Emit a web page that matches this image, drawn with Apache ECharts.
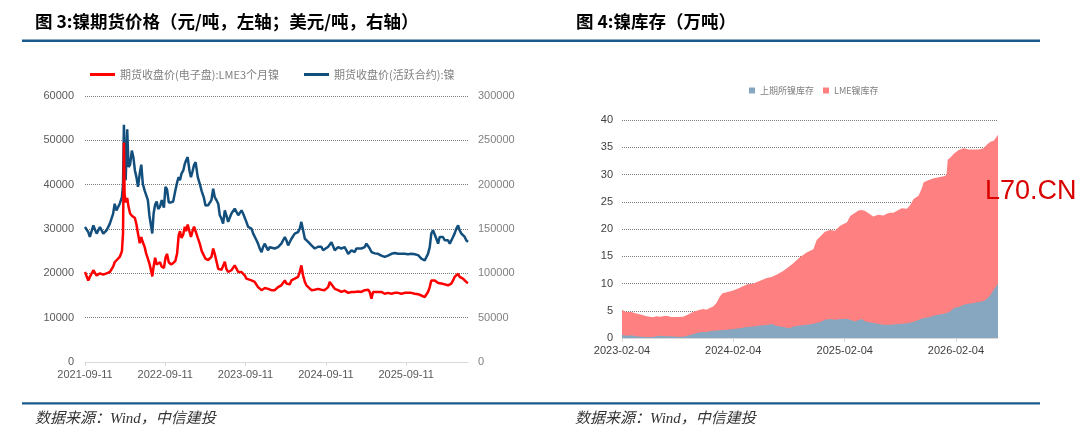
<!DOCTYPE html>
<html><head><meta charset="utf-8">
<script src="https://cdn.jsdelivr.net/npm/echarts@6/dist/echarts.min.js"></script>
<style>html,body{margin:0;padding:0;background:#fff}#c{width:1080px;height:443px}</style>
</head><body><div id="c"></div><script>
// ---------- Figure 3: nickel futures prices ----------
const priceDates = ['2021-09-11','2021-09-26','2021-10-03','2021-10-19','2021-11-03','2021-11-18','2021-12-03','2021-12-18','2022-01-02','2022-01-17','2022-01-24','2022-02-01','2022-02-16','2022-02-26','2022-03-03','2022-03-07','2022-03-10','2022-03-15','2022-03-22','2022-03-28','2022-04-04','2022-04-12','2022-04-19','2022-04-26','2022-05-03','2022-05-10','2022-05-18','2022-05-25','2022-06-01','2022-06-09','2022-06-16','2022-06-24','2022-07-01','2022-07-09','2022-07-14','2022-07-20','2022-07-27','2022-08-03','2022-08-10','2022-08-18','2022-08-26','2022-09-05','2022-09-12','2022-09-19','2022-09-27','2022-10-07','2022-10-17','2022-10-27','2022-11-04','2022-11-11','2022-11-17','2022-11-24','2022-12-02','2022-12-09','2022-12-15','2022-12-22','2022-12-30','2023-01-06','2023-01-13','2023-01-20','2023-01-27','2023-02-06','2023-02-15','2023-02-24','2023-03-06','2023-03-13','2023-03-25','2023-04-09','2023-04-17','2023-04-24','2023-05-02','2023-05-10','2023-05-17','2023-05-25','2023-06-01','2023-06-09','2023-06-16','2023-06-24','2023-07-09','2023-07-24','2023-08-09','2023-08-24','2023-08-31','2023-09-08','2023-09-15','2023-09-23','2023-10-08','2023-10-16','2023-10-23','2023-10-31','2023-11-07','2023-11-15','2023-11-23','2023-11-30','2023-12-08','2023-12-15','2023-12-23','2023-12-30','2024-01-07','2024-01-22','2024-01-30','2024-02-06','2024-02-21','2024-03-08','2024-03-15','2024-03-23','2024-03-30','2024-04-07','2024-04-22','2024-04-30','2024-05-07','2024-05-15','2024-05-22','2024-05-30','2024-06-07','2024-06-14','2024-06-22','2024-07-07','2024-07-22','2024-08-06','2024-08-21','2024-08-29','2024-09-05','2024-09-21','2024-09-28','2024-10-06','2024-10-21','2024-11-05','2024-11-20','2024-12-05','2024-12-13','2024-12-21','2025-01-05','2025-01-12','2025-01-20','2025-01-27','2025-02-04','2025-02-19','2025-02-27','2025-03-06','2025-03-14','2025-03-22','2025-03-29','2025-04-06','2025-04-13','2025-04-21','2025-05-06','2025-05-21','2025-06-05','2025-06-13','2025-06-20','2025-07-06','2025-07-21','2025-08-05','2025-08-20','2025-09-04','2025-09-19','2025-10-04','2025-10-20','2025-11-04','2025-11-19','2025-11-26','2025-12-04','2025-12-12','2025-12-19','2025-12-27','2026-01-03','2026-01-11','2026-01-19','2026-01-26','2026-02-03','2026-02-10','2026-02-18','2026-02-25','2026-03-05','2026-03-13','2026-03-20','2026-03-28','2026-04-04','2026-04-12','2026-04-19','2026-04-27','2026-05-05','2026-05-12','2026-05-20','2026-05-27','2026-06-04','2026-06-11','2026-06-19'];
// LME 3-month nickel (left axis)
const lmeNickel = [20300,18400,19200,20700,19500,20000,19700,20000,20300,21500,22500,22800,23700,25000,29000,49500,38000,36000,37000,35000,33500,33000,33000,32500,31000,29000,26800,28200,27000,26000,24500,23300,22200,20500,19300,21500,23500,22000,21800,22500,21500,21200,23500,24400,22500,22000,22300,22800,24500,28500,29500,28000,28800,30500,29500,31000,29500,28200,29500,30500,29500,28000,26700,25000,24000,23300,23000,23700,25600,24400,24400,21000,20700,20800,21000,22600,21000,20300,20700,21800,20300,20300,20300,19500,18800,18600,18400,18200,18050,17700,16900,16500,16200,16500,16700,16600,16500,16400,16200,16200,16500,16900,17300,18400,17700,17300,17500,18400,18800,18600,19200,20300,21800,19500,18050,17300,16900,16200,16300,16500,16300,16200,16200,16900,18050,17700,16500,16200,15800,16100,15800,15600,15800,16200,15800,16000,15900,15800,16000,16200,16550,16300,15800,14300,15800,15900,15800,15800,15400,15300,15600,15400,15600,15600,15400,15600,15600,15600,15400,15300,15000,14900,14650,14800,15800,16900,18400,18500,18400,18050,17800,18050,17700,17600,17500,17400,17300,17300,17700,18400,19200,19500,19900,19200,19200,18800,19000,18050,17800];
// SHFE most-active nickel (right axis)
const shfeNickel = [152300,146500,141000,154000,144800,152300,144800,148500,156000,167300,178500,171000,178500,186000,200000,267500,235000,205000,262500,220000,222500,238500,231000,216000,208500,197500,212500,222500,201000,193500,195000,182500,165000,163500,145000,167500,177500,181000,172500,175000,182500,174000,197500,195000,180000,180000,181000,193500,202500,208500,205000,212500,216000,223500,227500,231000,216000,208500,215000,222000,225500,208500,201000,192500,185000,176500,176800,182500,195500,186000,182500,178500,165500,161500,156000,171000,165500,158000,167500,173000,165500,171000,167500,165500,158000,152300,150500,144800,143000,137300,133500,127800,124000,129700,133500,129500,126000,129500,128000,128000,128000,129500,133500,141000,137300,131500,135000,139000,144800,143000,146500,150500,158000,148500,139000,137300,135500,131500,128000,130000,130000,126000,124000,130000,131500,135000,126000,129500,128000,129500,126000,122000,126000,128000,124000,128000,126000,128000,126000,129500,133500,131500,128000,124000,122000,122500,122000,120000,118500,116500,120000,122000,123000,122000,122000,122000,121500,122000,121500,120500,116500,118500,114500,114000,122000,129500,144800,148500,146500,139000,133500,141000,139000,141000,137300,135500,137300,133500,135500,141000,144800,150500,154000,148500,144800,143000,141000,137300,135500];
const priceTickLabels = ['2021-09-11','2022-09-11','2023-09-11','2024-09-11','2025-09-11'];
const priceNames = ['期货收盘价(电子盘):LME3个月镍','期货收盘价(活跃合约):镍'];

// ---------- Figure 4: nickel inventories (10k t) ----------
const stockDates = ['2023-02-04','2023-02-18','2023-03-07','2023-03-23','2023-04-09','2023-04-25','2023-05-17','2023-05-28','2023-06-08','2023-06-30','2023-07-16','2023-08-02','2023-08-24','2023-09-09','2023-09-25','2023-10-12','2023-10-28','2023-11-08','2023-11-19','2023-11-30','2023-12-11','2023-12-22','2023-12-31','2024-01-13','2024-02-04','2024-02-26','2024-03-19','2024-04-10','2024-05-02','2024-05-24','2024-06-09','2024-06-25','2024-07-17','2024-08-08','2024-08-19','2024-09-10','2024-10-02','2024-10-24','2024-10-29','2024-11-04','2024-11-15','2024-12-01','2024-12-18','2025-01-03','2025-01-20','2025-01-31','2025-02-11','2025-02-22','2025-03-10','2025-03-21','2025-04-01','2025-04-12','2025-04-23','2025-05-09','2025-05-25','2025-06-11','2025-06-22','2025-07-03','2025-07-14','2025-07-27','2025-08-10','2025-08-27','2025-09-07','2025-09-18','2025-10-04','2025-10-15','2025-10-21','2025-11-07','2025-11-23','2025-12-10','2025-12-26','2026-01-04','2026-01-08','2026-01-17','2026-01-28','2026-02-13','2026-03-02','2026-03-18','2026-04-04','2026-04-19','2026-05-06','2026-05-17','2026-05-28','2026-06-08','2026-06-22'];
const shfeStock = [0.6,0.4,0.5,0.3,0.25,0.2,0.2,0.3,0.4,0.3,0.3,0.25,0.25,0.45,0.7,1.0,1.1,1.1,1.25,1.35,1.38,1.4,1.45,1.5,1.65,1.8,2.0,2.1,2.3,2.4,2.55,2.25,2.0,1.8,2.1,2.3,2.45,2.6,2.7,2.8,2.9,3.35,3.5,3.35,3.5,3.5,3.55,3.35,3.05,3.3,3.5,3.05,2.95,2.75,2.6,2.45,2.45,2.45,2.5,2.55,2.6,2.7,2.85,3.0,3.3,3.6,3.65,3.8,4.1,4.3,4.45,4.6,4.8,4.9,5.5,5.7,6.1,6.3,6.4,6.6,6.8,7.2,7.9,8.85,9.95];
const lmeStock = [4.6,4.36,4.26,4.2,4.0,3.8,3.6,3.7,3.5,3.8,3.55,3.6,3.65,3.85,4.06,4.1,4.2,4.1,4.25,4.45,5.02,6.2,6.75,6.9,7.05,7.4,7.8,7.9,8.2,8.6,8.65,9.35,10.3,11.4,11.6,12.5,13.25,13.7,13.8,15.2,15.7,16.15,16.3,16.35,17.1,17.4,17.65,19.05,19.95,20.1,20.0,20.25,19.95,19.55,20.0,20.05,20.35,20.55,20.5,20.85,21.2,21.0,21.55,22.5,22.8,23.9,24.95,25.2,25.2,25.2,25.25,25.3,27.9,28.2,28.3,28.8,28.7,28.3,28.2,28.0,28.0,28.3,28.1,27.35,27.35];
const stockTickLabels = ['2023-02-04','2024-02-04','2025-02-04','2026-02-04'];
const stockNames = ['上期所镍库存','LME镍库存'];

// ---------- helpers ----------
function dayOff(base, s){ return (Date.parse(s+'T00:00:00Z') - Date.parse(base+'T00:00:00Z'))/86400000; }
const priceX = priceDates.map(d => dayOff(priceDates[0], d));
const priceTicks = priceTickLabels.map(d => dayOff(priceDates[0], d));
const stockX = stockDates.map(d => dayOff(stockDates[0], d));
const stockTicks = stockTickLabels.map(d => dayOff(stockDates[0], d));
const pair = (xs, ys) => xs.map((x, i) => [x, ys[i]]);
// stacked: LME sits on top of SHFE
const stockTotal = shfeStock.map((v, i) => +(v + lmeStock[i]).toFixed(3));

const SANS = '"Liberation Sans", Arial, sans-serif';
const CJK = '"Noto Sans CJK SC", sans-serif';
const RULE = '#1b5a8c';
const plain = v => String(v);

const chart = echarts.init(document.getElementById('c'), null, {renderer: 'canvas'});
chart.setOption({
  animation: false,
  textStyle: {fontFamily: SANS},
  legend: [
    {left: 85, top: 64, icon: 'rect', itemWidth: 25, itemHeight: 3, itemGap: 25,
     data: priceNames, textStyle: {color: '#808080', fontSize: 11, fontFamily: CJK}},
    {left: 744, top: 81, icon: 'rect', itemWidth: 6, itemHeight: 6, itemGap: 9,
     data: stockNames, textStyle: {color: '#808080', fontSize: 9, fontFamily: CJK}}
  ],
  grid: [
    {left: 85, top: 96, width: 383, height: 266},
    {left: 622, top: 120, width: 376, height: 218}
  ],
  xAxis: [
    {type: 'value', gridIndex: 0, min: 0, max: priceX[priceX.length - 1],
     axisLine: {show: true, lineStyle: {color: '#d9d9d9'}},
     axisTick: {show: true, customValues: priceTicks, length: 4, lineStyle: {color: '#d9d9d9'}},
     axisLabel: {customValues: priceTicks, color: '#595959', fontSize: 11, margin: 7,
       formatter: v => { const i = priceTicks.indexOf(v); return i >= 0 ? priceTickLabels[i] : ''; }},
     splitLine: {show: false}},
    {type: 'value', gridIndex: 1, min: 0, max: stockX[stockX.length - 1],
     axisLine: {show: true, lineStyle: {color: '#d9d9d9'}},
     axisTick: {show: true, customValues: stockTicks, length: 4, lineStyle: {color: '#d9d9d9'}},
     axisLabel: {customValues: stockTicks, color: '#404040', fontSize: 11, margin: 7,
       formatter: v => { const i = stockTicks.indexOf(v); return i >= 0 ? stockTickLabels[i] : ''; }},
     splitLine: {show: false}}
  ],
  yAxis: [
    {type: 'value', gridIndex: 0, position: 'left', min: 0, max: 60000, interval: 10000,
     axisLine: {show: false}, axisTick: {show: false},
     axisLabel: {color: '#595959', fontSize: 11, margin: 11, formatter: plain},
     splitLine: {lineStyle: {type: 'dotted', color: '#7a7a7a', width: 1}}},
    {type: 'value', gridIndex: 0, position: 'right', min: 0, max: 300000, interval: 50000,
     axisLine: {show: false}, axisTick: {show: false},
     axisLabel: {color: '#808080', fontSize: 11, margin: 10, formatter: plain},
     splitLine: {show: false}},
    {type: 'value', gridIndex: 1, min: 0, max: 40, interval: 5,
     axisLine: {show: false}, axisTick: {show: false},
     axisLabel: {color: '#404040', fontSize: 11, margin: 9, formatter: plain},
     splitLine: {lineStyle: {type: 'dotted', color: '#7a7a7a', width: 1}}}
  ],
  series: [
    {name: priceNames[1], type: 'line', xAxisIndex: 0, yAxisIndex: 1, data: pair(priceX, shfeNickel),
     showSymbol: false, symbol: 'none', lineStyle: {color: '#134f7d', width: 2.5}, itemStyle: {color: '#134f7d'}, z: 2},
    {name: priceNames[0], type: 'line', xAxisIndex: 0, yAxisIndex: 0, data: pair(priceX, lmeNickel),
     showSymbol: false, symbol: 'none', lineStyle: {color: '#ff0000', width: 2.5}, itemStyle: {color: '#ff0000'}, z: 3},
    {name: stockNames[1], type: 'line', xAxisIndex: 1, yAxisIndex: 2, data: pair(stockX, stockTotal),
     showSymbol: false, symbol: 'none', lineStyle: {width: 0}, itemStyle: {color: '#ff8080'},
     areaStyle: {color: '#ff8080', opacity: 1}, z: 2},
    {name: stockNames[0], type: 'line', xAxisIndex: 1, yAxisIndex: 2, data: pair(stockX, shfeStock),
     showSymbol: false, symbol: 'none', lineStyle: {width: 0}, itemStyle: {color: '#86a7bf'},
     areaStyle: {color: '#86a7bf', opacity: 1}, z: 3}
  ],
  graphic: [
    {type: 'text', left: 35, top: 13, style: {text: '图 3:镍期货价格（元/吨，左轴；美元/吨，右轴）', font: 'bold 17.5px ' + CJK, fill: '#000'}},
    {type: 'text', left: 576, top: 13, style: {text: '图 4:镍库存（万吨）', font: 'bold 17.5px ' + CJK, fill: '#000'}},
    {type: 'rect', shape: {x: 22, y: 39.5, width: 1018, height: 2.6}, style: {fill: RULE}},
    {type: 'rect', shape: {x: 22, y: 402.2, width: 1018, height: 2.4}, style: {fill: RULE}},
    {type: 'text', left: 35, top: 412, style: {text: '数据来源：Wind，中信建投', font: 'italic 15px "Liberation Serif", ' + CJK, fill: '#333'}},
    {type: 'text', left: 575, top: 412, style: {text: '数据来源：Wind，中信建投', font: 'italic 15px "Liberation Serif", ' + CJK, fill: '#333'}},
    {type: 'text', left: 985, top: 178, z: 100, style: {text: 'L70.CN', font: '27px ' + SANS, fill: '#d90000'}}
  ]
});
</script></body></html>
